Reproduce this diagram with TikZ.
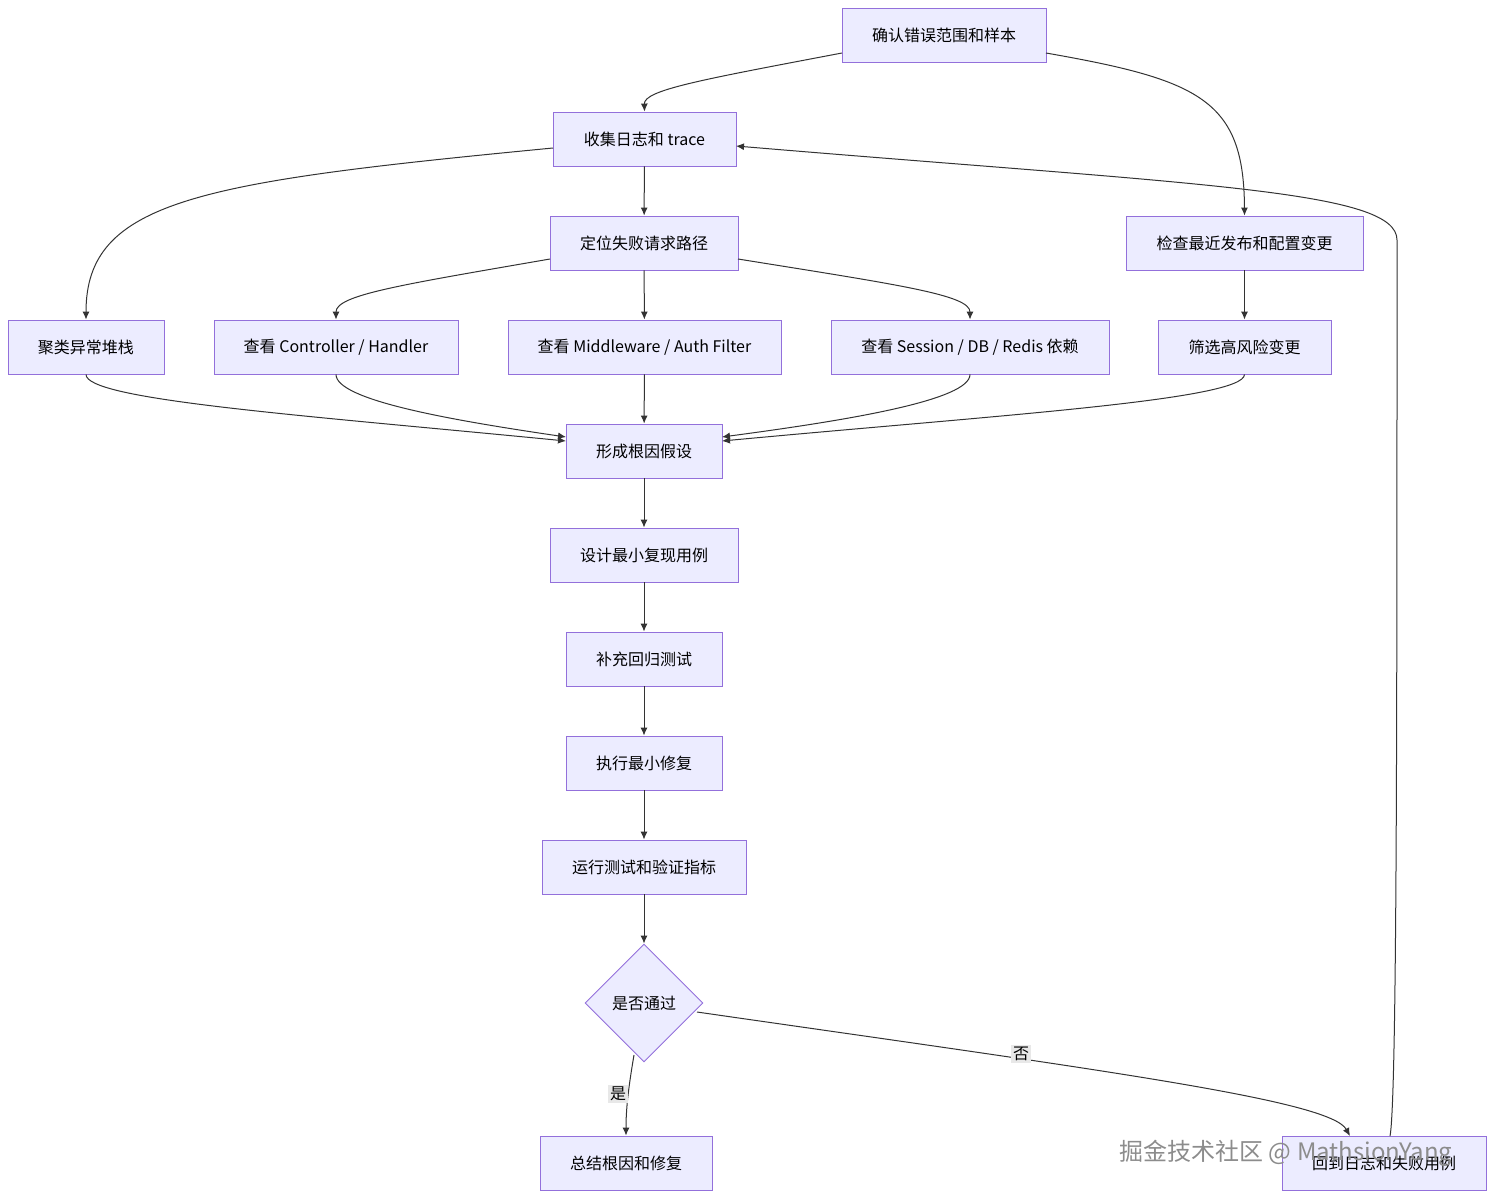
\documentclass[tikz,border=0pt]{standalone}
\usepackage{fontspec}
\setmainfont{Noto Sans CJK SC}
\usetikzlibrary{shapes.geometric,arrows.meta}
\definecolor{nfill}{HTML}{ECECFF}
\definecolor{nline}{HTML}{9370DB}
\definecolor{eline}{HTML}{333333}
\begin{document}
\begin{tikzpicture}[x=0.5pt,y=-0.5pt,
 box/.style={draw=nline,fill=nfill,line width=0.45pt,minimum height=27pt,inner sep=0pt,font=\fontsize{8}{9}\selectfont},
 dia/.style={draw=nline,fill=nfill,line width=0.45pt,diamond,minimum width=59pt,minimum height=59pt,inner sep=0pt,font=\fontsize{8}{9}\selectfont},
 e/.style={draw=eline,line width=0.5pt,-{Latex[length=4pt,width=3.5pt]}},
 lab/.style={fill=black!9,inner sep=1pt,font=\fontsize{8}{9}\selectfont}]
\useasboundingbox (0,0) rectangle (1494,1199);
\node[box,minimum width=102pt] (A) at (944,35) {确认错误范围和样本};
\node[box,minimum width=91.5pt] (B) at (644.5,139) {收集日志和 trace};
\node[box,minimum width=94pt] (C) at (644,243) {定位失败请求路径};
\node[box,minimum width=118.5pt] (D) at (1244.5,243) {检查最近发布和配置变更};
\node[box,minimum width=78pt] (E) at (86,347) {聚类异常堆栈};
\node[box,minimum width=122pt] (F) at (336,347) {查看 Controller / Handler};
\node[box,minimum width=136.5pt] (G) at (644.5,347) {查看 Middleware / Auth Filter};
\node[box,minimum width=139pt] (H) at (970,347) {查看 Session / DB / Redis 依赖};
\node[box,minimum width=86.5pt] (I) at (1244.5,347) {筛选高风险变更};
\node[box,minimum width=78pt] (J) at (644,451) {形成根因假设};
\node[box,minimum width=94pt] (K) at (644,555) {设计最小复现用例};
\node[box,minimum width=78pt] (L) at (644,659) {补充回归测试};
\node[box,minimum width=78pt] (M) at (644,763) {执行最小修复};
\node[box,minimum width=102pt] (N) at (644,867) {运行测试和验证指标};
\node[dia] (O) at (644,1003) {是否通过};
\node[box,minimum width=86pt] (P) at (626,1163) {总结根因和修复};
\node[box,minimum width=102pt] (Q) at (1384,1163) {回到日志和失败用例};
\draw[e] (842,53) .. controls (700,80) and (644,90) .. (B.north);
\draw[e] (1046,53) .. controls (1200,80) and (1244,100) .. (D.north);
\draw[e] (B) -- (C);
\draw[e] (553,148) .. controls (200,182) and (86,200) .. (E.north);
\draw[e] (550,259) .. controls (400,285) and (336,295) .. (F.north);
\draw[e] (C) -- (G);
\draw[e] (738,259) .. controls (900,285) and (970,295) .. (H.north);
\draw[e] (D) -- (I);
\draw[e] (E.south) .. controls (86,400) and (300,415) .. (566,441);
\draw[e] (F.south) .. controls (336,400) and (450,420) .. (566,437);
\draw[e] (G) -- (J);
\draw[e] (H.south) .. controls (970,400) and (850,420) .. (722,437);
\draw[e] (I.south) .. controls (1244,400) and (1000,415) .. (722,441);
\draw[e] (J) -- (K);
\draw[e] (K) -- (L);
\draw[e] (L) -- (M);
\draw[e] (M) -- (N);
\draw[e] (N) -- (O);
\draw[e] (634,1055) .. controls (628,1090) and (626,1110) .. (P.north);
\node[lab] (yes) at (618,1094) {是};
\draw[e] (697,1012) .. controls (1100,1070) and (1330,1100) .. (1350,1136);
\node[lab] (no) at (1021,1054) {否};
\draw[e] (1390,1136) .. controls (1397,1100) and (1397,700) .. (1397,240) .. controls (1397,190) and (1200,185) .. (736,146);
\node[text=black!45,font=\fontsize{12}{14}\selectfont] (W) at (1286,1153) {掘金技术社区 @ MathsionYang};
\end{tikzpicture}
\end{document}
